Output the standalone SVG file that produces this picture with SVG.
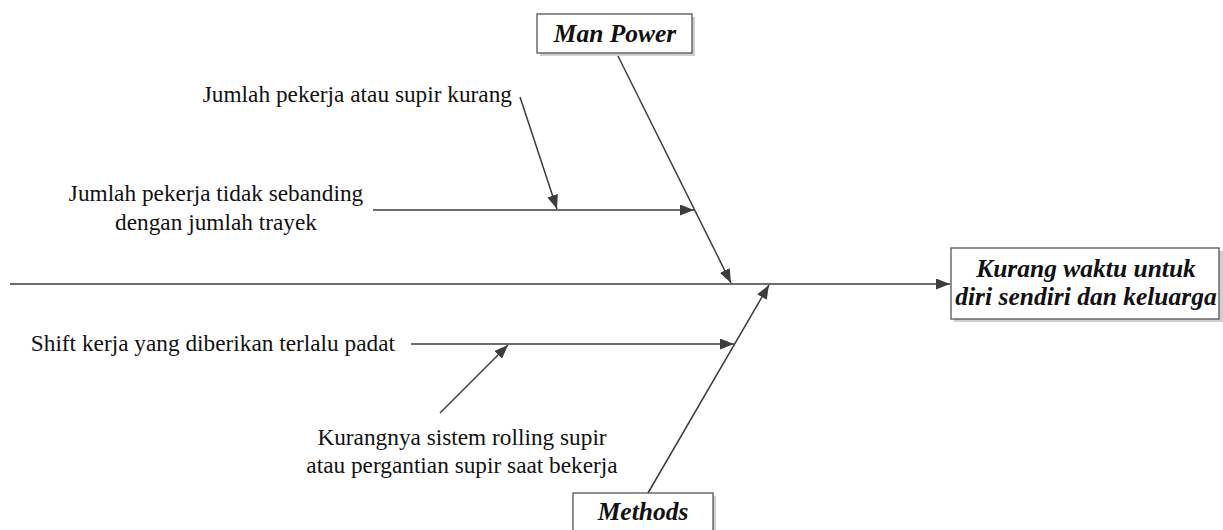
<svg xmlns="http://www.w3.org/2000/svg" width="1223" height="530" viewBox="0 0 1223 530">
  <style>
    .lbl { font-family: "Liberation Serif", "Times New Roman", serif; font-size: 23.3px; fill: #111; }
    .hdr { font-family: "Liberation Serif", "Times New Roman", serif; font-weight: bold; font-style: italic; font-size: 25.5px; fill: #111; }
    .box { fill: #fff; stroke: #555; stroke-width: 1.3; }
    .shadow { fill: #cfcfcf; }
    .ln { stroke: #3c3c3c; stroke-width: 1.5; fill: none; marker-end: url(#arr); }
  </style>
  <defs>
    <marker id="arr" viewBox="0 0 14 11" refX="14" refY="5.5" markerWidth="14" markerHeight="11" markerUnits="userSpaceOnUse" orient="auto">
      <path d="M0,0 L14,5.5 L0,11 Z" fill="#3c3c3c"/>
    </marker>
  </defs>

  <rect width="1223" height="530" fill="#fff"/>

  <!-- connectors: spine, category bones and cause arrows -->
  <g id="connectors">
    <line class="ln" x1="10" y1="284" x2="950" y2="284"/>
    <line class="ln" x1="617" y1="54" x2="731" y2="283"/>
    <line class="ln" x1="648" y1="493" x2="769" y2="285"/>
    <line class="ln" x1="373" y1="210" x2="694" y2="210"/>
    <line class="ln" x1="520" y1="97" x2="557" y2="209"/>
    <line class="ln" x1="411" y1="344" x2="734" y2="344"/>
    <line class="ln" x1="440" y1="413" x2="508" y2="345"/>
  </g>

  <!-- effect -->
  <g id="effect">
    <rect class="shadow" x="954" y="251" width="269" height="71"/>
    <rect class="box" x="951" y="248" width="268" height="71"/>
    <text class="hdr" x="1086" y="277" text-anchor="middle">Kurang waktu untuk</text>
    <text class="hdr" x="1086" y="305" text-anchor="middle">diri sendiri dan keluarga</text>
  </g>

  <!-- category: Man Power -->
  <g id="man-power">
    <rect class="shadow" x="540" y="17" width="155" height="39"/>
    <rect class="box" x="537" y="14" width="155" height="39"/>
    <text class="hdr" x="615" y="42" text-anchor="middle">Man Power</text>
  </g>

  <!-- category: Methods -->
  <g id="methods">
    <rect class="shadow" x="576" y="496" width="140" height="45"/>
    <rect class="box" x="573" y="493" width="140" height="45"/>
    <text class="hdr" x="643" y="520" text-anchor="middle">Methods</text>
  </g>

  <!-- causes -->
  <g id="cause-supir-kurang">
    <text class="lbl" x="512" y="102" text-anchor="end">Jumlah pekerja atau supir kurang</text>
  </g>
  <g id="cause-tidak-sebanding">
    <text class="lbl" x="216" y="201" text-anchor="middle">Jumlah pekerja tidak sebanding</text>
    <text class="lbl" x="216" y="230" text-anchor="middle">dengan jumlah trayek</text>
  </g>
  <g id="cause-shift-padat">
    <text class="lbl" x="395" y="351" text-anchor="end">Shift kerja yang diberikan terlalu padat</text>
  </g>
  <g id="cause-rolling">
    <text class="lbl" x="462" y="445" text-anchor="middle">Kurangnya sistem rolling supir</text>
    <text class="lbl" x="462" y="473" text-anchor="middle">atau pergantian supir saat bekerja</text>
  </g>
</svg>
